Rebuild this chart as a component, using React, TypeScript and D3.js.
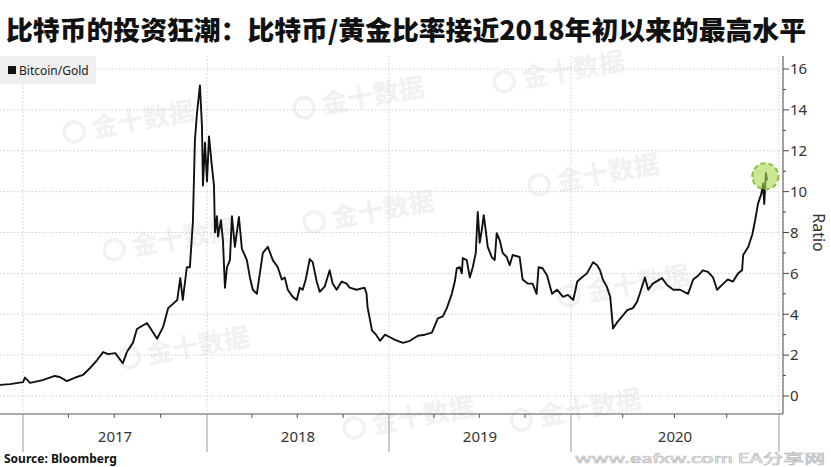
import { useEffect, useRef } from "react"
import * as d3 from "d3"

// Bitcoin/Gold ratio
const dates = [
  "2016-11-15", "2016-12-06", "2017-01-01", "2017-01-05", "2017-01-15", "2017-02-09", "2017-03-05", "2017-03-15",
  "2017-03-29", "2017-04-18", "2017-04-30", "2017-05-14", "2017-05-28", "2017-06-09", "2017-06-19", "2017-07-03",
  "2017-07-18", "2017-07-26", "2017-08-07", "2017-08-15", "2017-09-04", "2017-09-24", "2017-10-06", "2017-10-16",
  "2017-11-03", "2017-11-09", "2017-11-14", "2017-11-22", "2017-11-28", "2017-12-04", "2017-12-08", "2017-12-12",
  "2017-12-18", "2017-12-22", "2017-12-24", "2017-12-28",
  "2018-01-01", "2018-01-05", "2018-01-11", "2018-01-15", "2018-01-17", "2018-01-21", "2018-01-23", "2018-01-29",
  "2018-02-02", "2018-02-06", "2018-02-10", "2018-02-16", "2018-02-20", "2018-02-26", "2018-03-06", "2018-03-12",
  "2018-03-22", "2018-03-28", "2018-04-03", "2018-04-11", "2018-04-23", "2018-05-03", "2018-05-13", "2018-05-23",
  "2018-05-31", "2018-06-06", "2018-06-12", "2018-06-22", "2018-06-30", "2018-07-06", "2018-07-12", "2018-07-18",
  "2018-07-26", "2018-08-01", "2018-08-09", "2018-08-15", "2018-08-25", "2018-09-04", "2018-09-10", "2018-09-18",
  "2018-09-28", "2018-10-08", "2018-10-14", "2018-10-28", "2018-11-13", "2018-11-17", "2018-11-19", "2018-11-28",
  "2018-12-06", "2018-12-14", "2018-12-24",
  "2019-01-01", "2019-01-13", "2019-01-29", "2019-02-12", "2019-02-28", "2019-03-14", "2019-03-28", "2019-04-09",
  "2019-04-19", "2019-04-27", "2019-05-07", "2019-05-13", "2019-05-17", "2019-05-23", "2019-05-27", "2019-05-29",
  "2019-06-06", "2019-06-12", "2019-06-18", "2019-06-24", "2019-06-28", "2019-07-02", "2019-07-06", "2019-07-10",
  "2019-07-14", "2019-07-18", "2019-07-26", "2019-08-01", "2019-08-05", "2019-08-11", "2019-08-17", "2019-08-25",
  "2019-08-31", "2019-09-06", "2019-09-20", "2019-09-26", "2019-10-06", "2019-10-16", "2019-10-24", "2019-10-28",
  "2019-11-05", "2019-11-14", "2019-11-24", "2019-12-04", "2019-12-16", "2019-12-26",
  "2020-01-05", "2020-01-12", "2020-01-20", "2020-01-29", "2020-02-09", "2020-02-16", "2020-02-21", "2020-02-26",
  "2020-03-04", "2020-03-10", "2020-03-15", "2020-03-22", "2020-03-31", "2020-04-09", "2020-04-19", "2020-04-26",
  "2020-05-01", "2020-05-10", "2020-05-16", "2020-05-24", "2020-06-09", "2020-06-18", "2020-06-29", "2020-07-11",
  "2020-07-25", "2020-08-03", "2020-08-12", "2020-08-20", "2020-08-29", "2020-09-07", "2020-09-14", "2020-09-25",
  "2020-10-03", "2020-10-12", "2020-10-21", "2020-10-28", "2020-10-30", "2020-11-08", "2020-11-15", "2020-11-20",
  "2020-11-25", "2020-12-01", "2020-12-04", "2020-12-06", "2020-12-09", "2020-12-11",
]
const ratios = [
  0.54, 0.58, 0.68, 0.9, 0.64, 0.78, 0.98, 0.93,
  0.73, 0.93, 1.03, 1.37, 1.76, 2.15, 2.05, 2.1,
  1.6, 2.15, 2.6, 3.28, 3.57, 2.8, 3.38, 4.3,
  4.7, 5.77, 4.7, 6.3, 6.3, 8.5, 12.5, 13.8,
  15.2, 13.2, 10.3, 12.4,
  10.5, 12.7, 11.2, 10.3, 8.0, 8.8, 7.8, 8.6,
  7.6, 5.3, 6.3, 6.65, 8.8, 7.3, 8.76, 7.2,
  6.65, 5.8, 5.2, 5.0, 7.0, 7.3, 6.65, 6.3,
  5.7, 5.8, 5.2, 4.85, 4.7, 5.3, 5.2, 5.7,
  6.7, 6.55, 5.6, 5.1, 5.35, 6.15, 5.5, 5.2,
  5.6, 5.5, 5.3, 5.2, 5.3, 5.0, 4.35, 3.2,
  3.0, 2.7, 3.0,
  2.9, 2.75, 2.6, 2.7, 2.95, 3.0, 3.1, 3.8,
  3.9, 4.3, 5.0, 5.6, 6.25, 6.3, 6.0, 6.75,
  6.65, 5.8, 6.3, 7.0, 9.0, 7.5, 8.1, 8.85,
  8.1, 7.3, 6.8, 6.65, 7.97, 7.63, 7.0, 6.8,
  6.4, 6.9, 6.8, 5.7, 5.5, 5.5, 5.0, 6.3,
  6.25, 5.9, 5.0, 5.2, 4.85, 4.95,
  4.7, 5.6, 5.8, 6.0, 6.55, 6.4, 6.15, 5.7,
  5.35, 4.85, 3.3, 3.6, 3.9, 4.2, 4.3, 4.6,
  5.0, 5.8, 5.2, 5.5, 5.77, 5.43, 5.2, 5.2,
  5.0, 5.7, 5.9, 6.15, 6.07, 5.8, 5.2, 5.5,
  5.7, 5.6, 6.0, 6.15, 6.9, 7.3, 7.9, 8.6,
  9.4, 9.9, 10.4, 9.4, 10.9, 10.55,
]

const yearStarts = ["2017-01-01", "2018-01-01", "2019-01-01", "2020-01-01", "2021-01-01"]
const yearLabels = ["2017", "2018", "2019", "2020"]
const yTicks = [0, 2, 4, 6, 8, 10, 12, 14, 16]
const yMinorTicks = [1, 3, 5, 7, 9, 11, 13, 15]
const highlightDate = "2020-12-08"
const highlightValue = 10.75

const watermarks = [
  [125, 132], [355, 108], [165, 250], [365, 222], [590, 185], [555, 82], [180, 358], [620, 296], [405, 428], [572, 420],
]

export default function App() {
  const ref = useRef<SVGSVGElement>(null)

  useEffect(() => {
    const W = 831
    const H = 467
    const axisX = 783
    const baseY = 414
    const sans = "'Noto Sans', 'Open Sans', sans-serif"
    const parse = d3.timeParse("%Y-%m-%d")

    const x = d3.scaleTime()
      .domain(yearStarts.map(d => parse(d)!))
      .range([23, 207, 389, 571, 779])
    const y = d3.scaleLinear().domain([0, 16]).range([396, 69])

    const svg = d3.select(ref.current)
    svg.selectAll("*").remove()
    svg.attr("width", W).attr("height", H).attr("viewBox", `0 0 ${W} ${H}`)

    svg.append("rect").attr("width", W).attr("height", H).attr("fill", "#fff")

    // watermarks
    const wm = svg.append("g").attr("fill", "#f1f1f1").attr("font-family", "'Noto Sans CJK SC', sans-serif")
      .attr("font-weight", 700).attr("font-size", 26)
    watermarks.forEach(([cx, cy]) => {
      const g = wm.append("g").attr("transform", `translate(${cx},${cy}) rotate(-10)`)
      g.append("circle").attr("cx", -50).attr("cy", -9).attr("r", 10).attr("fill", "none")
        .attr("stroke", "#f1f1f1").attr("stroke-width", 3.5)
      g.append("text").attr("x", -32).attr("y", 0).text("金十数据")
    })

    // title
    svg.append("text")
      .attr("x", 6).attr("y", 40)
      .attr("font-family", "'Noto Sans CJK SC', sans-serif")
      .attr("font-weight", 900).attr("font-size", 26)
      .attr("textLength", 800).attr("lengthAdjust", "spacingAndGlyphs")
      .attr("fill", "#111")
      .text("比特币的投资狂潮：比特币/黄金比率接近2018年初以来的最高水平")

    // grid
    const grid = svg.append("g").attr("stroke", "#cfcfcf").attr("stroke-dasharray", "1.5,2").attr("stroke-width", 1)
    yTicks.forEach(t => {
      grid.append("line").attr("x1", 0).attr("x2", 779).attr("y1", y(t)).attr("y2", y(t))
    })
    yearStarts.forEach(d => {
      const px = x(parse(d)!)
      grid.append("line").attr("x1", px).attr("x2", px).attr("y1", 56).attr("y2", baseY)
    })

    // legend
    svg.append("rect").attr("x", 0).attr("y", 56).attr("width", 96).attr("height", 28).attr("fill", "#efefef")
    svg.append("rect").attr("x", 8).attr("y", 66).attr("width", 8).attr("height", 8).attr("fill", "#111")
    svg.append("text").attr("x", 19).attr("y", 75).attr("font-family", sans).attr("font-size", 12)
      .attr("fill", "#222").text("Bitcoin/Gold")

    // line
    const points = dates.map((d, i) => [parse(d)!, ratios[i]] as [Date, number])
    const line = d3.line<[Date, number]>().x(d => x(d[0])).y(d => y(d[1]))
    svg.append("path").attr("d", line(points)).attr("fill", "none")
      .attr("stroke", "#111").attr("stroke-width", 1.9).attr("stroke-linejoin", "round")

    // highlight circle
    svg.append("circle")
      .attr("cx", x(parse(highlightDate)!)).attr("cy", y(highlightValue)).attr("r", 13)
      .attr("fill", "#a9d94f").attr("fill-opacity", 0.6)
      .attr("stroke", "#86c23a").attr("stroke-width", 2).attr("stroke-dasharray", "5,3")

    // right axis
    const ax = svg.append("g").attr("stroke", "#444")
    ax.append("line").attr("x1", axisX).attr("x2", axisX).attr("y1", 56).attr("y2", baseY)
    yTicks.forEach(t => {
      ax.append("line").attr("x1", axisX).attr("x2", axisX + 6).attr("y1", y(t)).attr("y2", y(t))
    })
    yMinorTicks.forEach(t => {
      ax.append("line").attr("x1", axisX).attr("x2", axisX + 3).attr("y1", y(t)).attr("y2", y(t))
    })
    const yl = svg.append("g").attr("font-family", sans).attr("font-size", 15).attr("fill", "#333")
    yTicks.forEach(t => {
      yl.append("text").attr("x", axisX + 7).attr("y", y(t)).attr("dy", "0.35em").text(t)
    })
    svg.append("text")
      .attr("transform", `translate(813,${y(8)}) rotate(90)`)
      .attr("text-anchor", "middle")
      .attr("font-family", sans).attr("font-size", 16).attr("fill", "#333")
      .text("Ratio")

    // bottom axis
    const bx = svg.append("g").attr("stroke", "#555")
    bx.append("line").attr("x1", 0).attr("x2", axisX).attr("y1", baseY).attr("y2", baseY)
    yearStarts.forEach(d => {
      const px = x(parse(d)!)
      bx.append("line").attr("x1", px).attr("x2", px).attr("y1", baseY).attr("y2", 452).attr("stroke", "#999")
    })
    const quarters = d3.timeMonth.every(3)!.range(parse("2017-01-01")!, parse("2021-01-01")!)
      .filter(d => d.getMonth() !== 0)
    quarters.forEach(d => {
      const px = x(d)
      bx.append("line").attr("x1", px).attr("x2", px).attr("y1", baseY).attr("y2", baseY + 4)
    })
    const xl = svg.append("g").attr("font-family", sans).attr("font-size", 15).attr("fill", "#333")
      .attr("text-anchor", "middle")
    yearLabels.forEach((lab, i) => {
      const mid = (x(parse(yearStarts[i])!) + x(parse(yearStarts[i + 1])!)) / 2
      xl.append("text").attr("x", mid).attr("y", 442).text(lab)
    })

    // source
    svg.append("text").attr("x", 4).attr("y", 463)
      .attr("font-family", sans).attr("font-weight", 700).attr("font-size", 12).attr("fill", "#111")
      .text("Source: Bloomberg")

    // site watermark
    svg.append("text").attr("x", 575).attr("y", 463)
      .attr("font-family", "'Noto Sans CJK SC', sans-serif").attr("font-size", 13)
      .attr("textLength", 250).attr("lengthAdjust", "spacingAndGlyphs")
      .attr("fill", "#fafafa").attr("stroke", "#b8b8b8").attr("stroke-width", 0.6)
      .text("www.eafxw.com  EA分享网")
  })

  return (
    <svg ref={ref} style={{ position: "absolute", left: 0, top: 0, display: "block" }}></svg>
  )
}
